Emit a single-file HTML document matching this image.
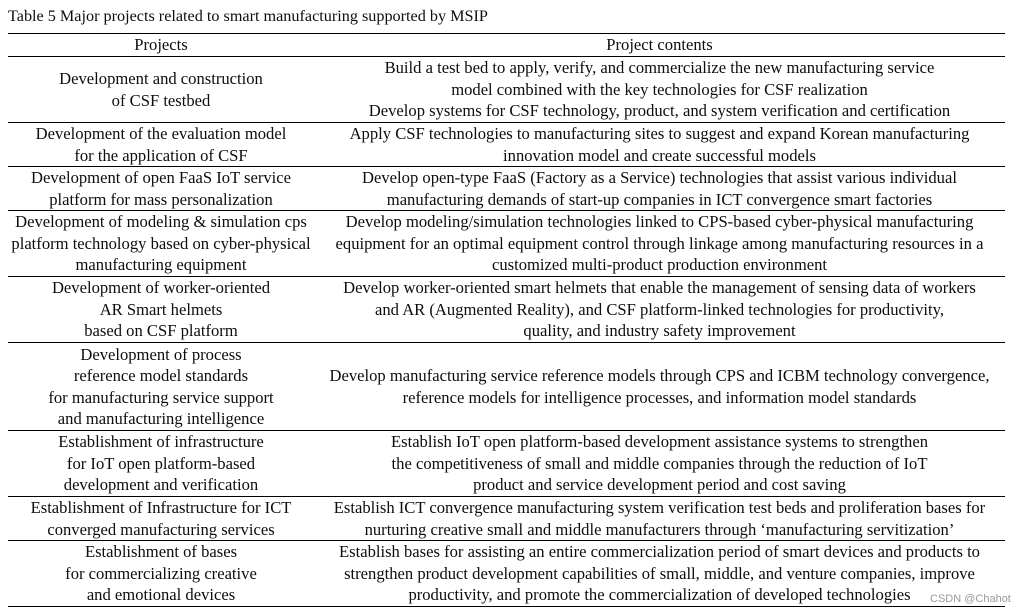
<!DOCTYPE html>
<html><head><meta charset="utf-8">
<style>
html,body{margin:0;padding:0;background:#fff;}
body{width:1025px;height:614px;position:relative;overflow:hidden;font-family:"Liberation Serif","Times New Roman",serif;font-size:16.6px;color:#0d0d0d;}
.t{position:absolute;left:8px;top:6px;line-height:20px;white-space:nowrap;font-size:16.2px;}
.hl{position:absolute;left:8px;width:997px;height:1px;background:#000;}
.row{position:absolute;left:8px;width:997px;display:flex;}
.c1,.c2{display:flex;align-items:center;justify-content:center;text-align:center;line-height:21.5px;white-space:nowrap;}
.c1{width:306px;}
.c2{width:691px;}
.wm{position:absolute;left:930px;top:593px;font-family:"Liberation Sans","DejaVu Sans",sans-serif;font-size:11px;color:#9a9a9a;white-space:nowrap;}
</style></head><body>
<div class="t">Table 5 Major projects related to smart manufacturing supported by MSIP</div>
<div class="hl" style="top:33px"></div>
<div class="row" style="top:34px;height:22px"><div class="c1">Projects</div><div class="c2">Project contents</div></div>
<div class="hl" style="top:56px"></div>

<div class="row" style="top:57px;height:65px"><div class="c1">Development and construction<br>of CSF testbed</div><div class="c2">Build a test bed to apply, verify, and commercialize the new manufacturing service<br>model combined with the key technologies for CSF realization<br>Develop systems for CSF technology, product, and system verification and certification</div></div>
<div class="hl" style="top:122px"></div>

<div class="row" style="top:123px;height:43px"><div class="c1">Development of the evaluation model<br>for the application of CSF</div><div class="c2">Apply CSF technologies to manufacturing sites to suggest and expand Korean manufacturing<br>innovation model and create successful models</div></div>
<div class="hl" style="top:166px"></div>

<div class="row" style="top:167px;height:43px"><div class="c1">Development of open FaaS IoT service<br>platform for mass personalization</div><div class="c2">Develop open-type FaaS (Factory as a Service) technologies that assist various individual<br>manufacturing demands of start-up companies in ICT convergence smart factories</div></div>
<div class="hl" style="top:210px"></div>

<div class="row" style="top:211px;height:65px"><div class="c1">Development of modeling &amp; simulation cps<br>platform technology based on cyber-physical<br>manufacturing equipment</div><div class="c2">Develop modeling/simulation technologies linked to CPS-based cyber-physical manufacturing<br>equipment for an optimal equipment control through linkage among manufacturing resources in a<br>customized multi-product production environment</div></div>
<div class="hl" style="top:276px"></div>

<div class="row" style="top:277px;height:65px"><div class="c1">Development of worker-oriented<br>AR Smart helmets<br>based on CSF platform</div><div class="c2">Develop worker-oriented smart helmets that enable the management of sensing data of workers<br>and AR (Augmented Reality), and CSF platform-linked technologies for productivity,<br>quality, and industry safety improvement</div></div>
<div class="hl" style="top:342px"></div>

<div class="row" style="top:343px;height:87px"><div class="c1">Development of process<br>reference model standards<br>for manufacturing service support<br>and manufacturing intelligence</div><div class="c2">Develop manufacturing service reference models through CPS and ICBM technology convergence,<br>reference models for intelligence processes, and information model standards</div></div>
<div class="hl" style="top:430px"></div>

<div class="row" style="top:431px;height:65px"><div class="c1">Establishment of infrastructure<br>for IoT open platform-based<br>development and verification</div><div class="c2">Establish IoT open platform-based development assistance systems to strengthen<br>the competitiveness of small and middle companies through the reduction of IoT<br>product and service development period and cost saving</div></div>
<div class="hl" style="top:496px"></div>

<div class="row" style="top:497px;height:43px"><div class="c1">Establishment of Infrastructure for ICT<br>converged manufacturing services</div><div class="c2">Establish ICT convergence manufacturing system verification test beds and proliferation bases for<br>nurturing creative small and middle manufacturers through ‘manufacturing servitization’</div></div>
<div class="hl" style="top:540px"></div>

<div class="row" style="top:541px;height:65px"><div class="c1">Establishment of bases<br>for commercializing creative<br>and emotional devices</div><div class="c2">Establish bases for assisting an entire commercialization period of smart devices and products to<br>strengthen product development capabilities of small, middle, and venture companies, improve<br>productivity, and promote the commercialization of developed technologies</div></div>
<div class="hl" style="top:606px"></div>

<div class="wm">CSDN @Chahot</div>
</body></html>
